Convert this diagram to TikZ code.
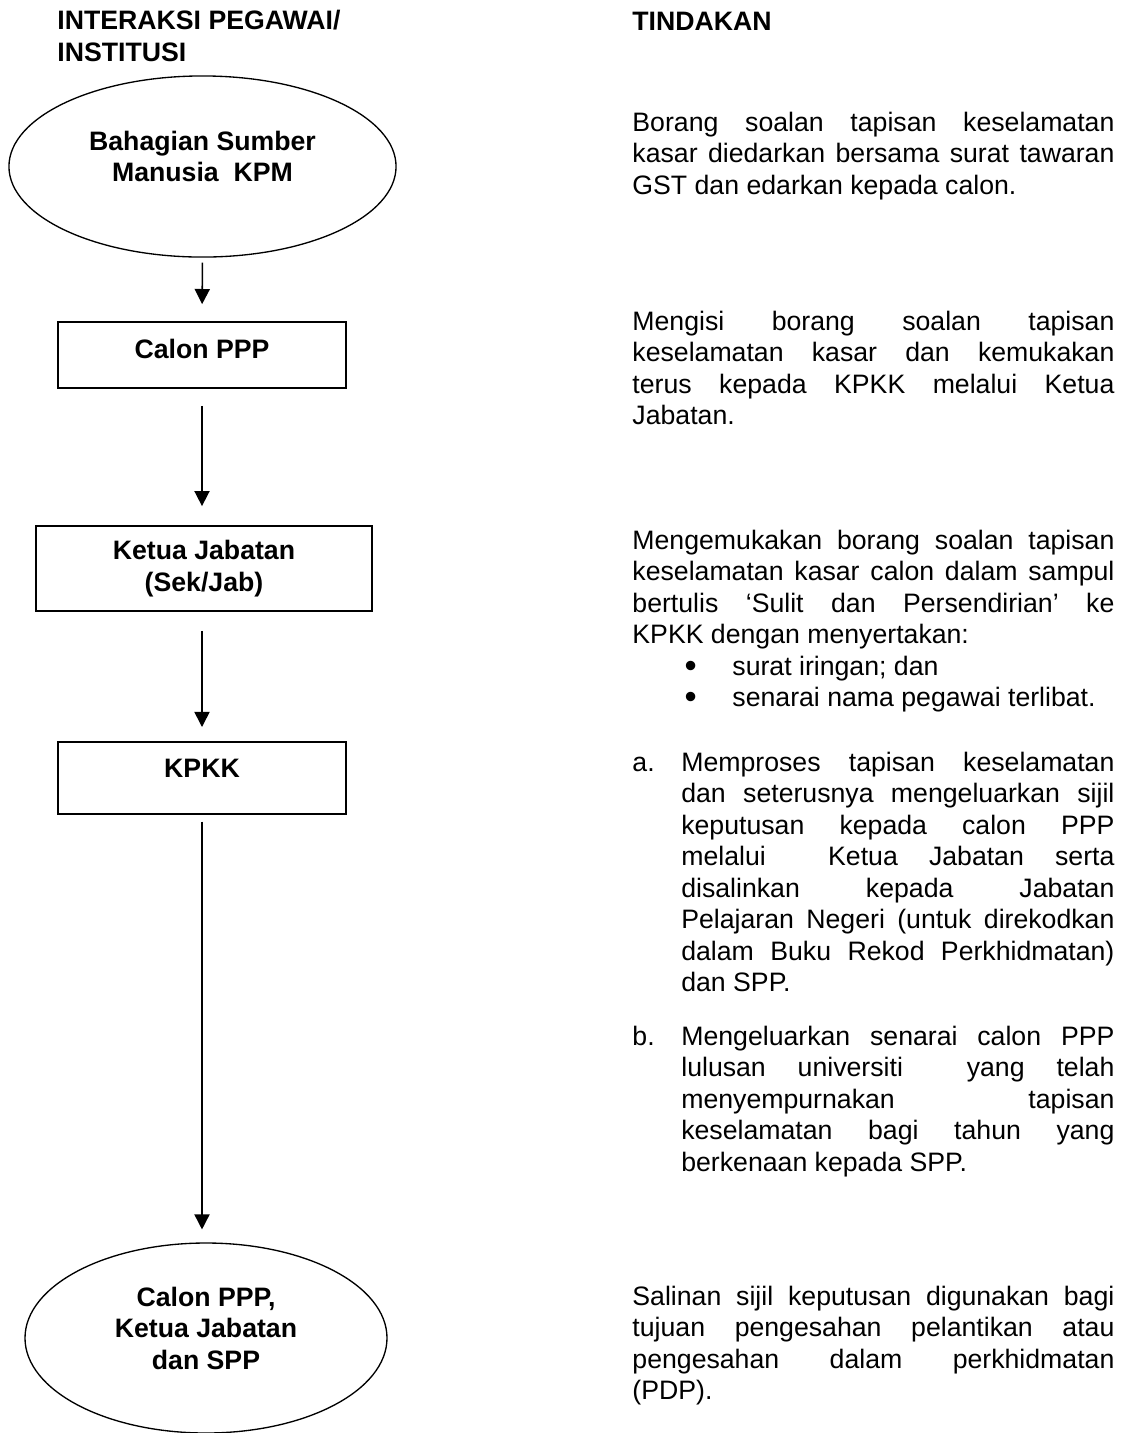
\documentclass[12pt,tikz,border=0pt]{standalone}
\usepackage{fontspec}
\setmainfont{Liberation Sans}
\usetikzlibrary{arrows.meta,shapes.geometric}
\hyphenpenalty=10000
\frenchspacing
\tikzset{
  flowbox/.style = {rectangle, draw=black, line width=0.9pt, align=center,
    font=\bfseries, inner sep=0pt},
  flowoval/.style = {ellipse, draw=black, line width=0.6pt, align=center,
    font=\bfseries, inner sep=0pt, text depth=9pt},
  flowarrow/.style = {line width=0.7pt, -{Triangle[width=6.8pt,length=6.8pt]}},
  headtext/.style = {anchor=base west, inner sep=0pt, align=left, font=\bfseries},
  steptext/.style = {anchor=base west, inner sep=0pt, text width=216.9pt, align=justify}
}
\newcommand{\itemlabel}[1]{\hangindent=22pt\hangafter=1\makebox[22pt][l]{#1}}
\newcommand{\bulletline}{\hspace*{23.5pt}\makebox[21.5pt][l]{\smash{\raisebox{-0.8pt}{\scalebox{1.3}{\textbullet}}}}}

\begin{document}
\fontsize{12pt}{14.2pt}\selectfont
\begin{tikzpicture}[x=0.45pt, y=-0.45pt]
    \useasboundingbox (0,0) rectangle (1124,1433);

    \node [headtext] (headleft) at (57,61) {INTERAKSI PEGAWAI/\\INSTITUSI};
    \node [headtext] (headright) at (632,30) {TINDAKAN};

    \node [flowoval, minimum width=174.2pt, minimum height=81.5pt] (bsm) at (202.5,166.5)
        {Bahagian Sumber\\Manusia\ \ KPM};
    \node [flowbox, minimum width=129.6pt, minimum height=29.7pt, text depth=5.6pt] (calon) at (202,355)
        {Calon PPP};
    \node [flowbox, minimum width=151.2pt, minimum height=38.25pt] (ketua) at (204,568.5)
        {Ketua Jabatan\\(Sek/Jab)};
    \node [flowbox, minimum width=129.6pt, minimum height=32.4pt, text depth=8.6pt] (kpkk) at (202,778)
        {KPKK};
    \node [flowoval, minimum width=162.9pt, minimum height=85.5pt] (akhir) at (206,1338)
        {Calon PPP,\\Ketua Jabatan\\dan SPP};

    \draw [flowarrow, shorten <=2.2pt, shorten >=7.6pt] (bsm.south) -- (calon.north);
    \draw [flowarrow, shorten <=7.6pt, shorten >=8.5pt] (calon.south) -- (calon.south |- ketua.north);
    \draw [flowarrow, shorten <=8.5pt, shorten >=6.3pt] (ketua.south -| kpkk.north) -- (kpkk.north);
    \draw [flowarrow, shorten <=3pt, shorten >=5.8pt] (kpkk.south) -- (kpkk.south |- akhir.north);

    \node [steptext] (step1) at (632,131)
        {Borang soalan tapisan keselamatan\linebreak
         kasar diedarkan bersama surat tawaran\linebreak
         GST dan edarkan kepada calon.};
    \node [steptext] (step2) at (632,330)
        {Mengisi borang soalan tapisan\linebreak
         keselamatan kasar dan kemukakan\linebreak
         terus kepada KPKK melalui Ketua\linebreak
         Jabatan.};
    \node [steptext] (step3) at (632,549)
        {Mengemukakan borang soalan tapisan\linebreak
         keselamatan kasar calon dalam sampul\linebreak
         bertulis ‘Sulit dan Persendirian’ ke\linebreak
         KPKK dengan menyertakan:\par
         \bulletline surat iringan; dan\par
         \bulletline senarai nama pegawai terlibat.};
    \node [steptext] (step4a) at (632,771)
        {\itemlabel{a.}Memproses tapisan keselamatan\linebreak
         dan seterusnya mengeluarkan sijil\linebreak
         keputusan kepada calon PPP\linebreak
         melalui\ \ Ketua Jabatan serta\linebreak
         disalinkan kepada Jabatan\linebreak
         Pelajaran Negeri (untuk direkodkan\linebreak
         dalam Buku Rekod Perkhidmatan)\linebreak
         dan SPP.\par};
    \node [steptext] (step4b) at (632,1045)
        {\itemlabel{b.}Mengeluarkan senarai calon PPP\linebreak
         lulusan universiti\ \ yang telah\linebreak
         menyempurnakan tapisan\linebreak
         keselamatan bagi tahun yang\linebreak
         berkenaan kepada SPP.\par};
    \node [steptext] (step5) at (632,1305)
        {Salinan sijil keputusan digunakan bagi\linebreak
         tujuan pengesahan pelantikan atau\linebreak
         pengesahan dalam perkhidmatan\linebreak
         (PDP).};
\end{tikzpicture}
\end{document}
